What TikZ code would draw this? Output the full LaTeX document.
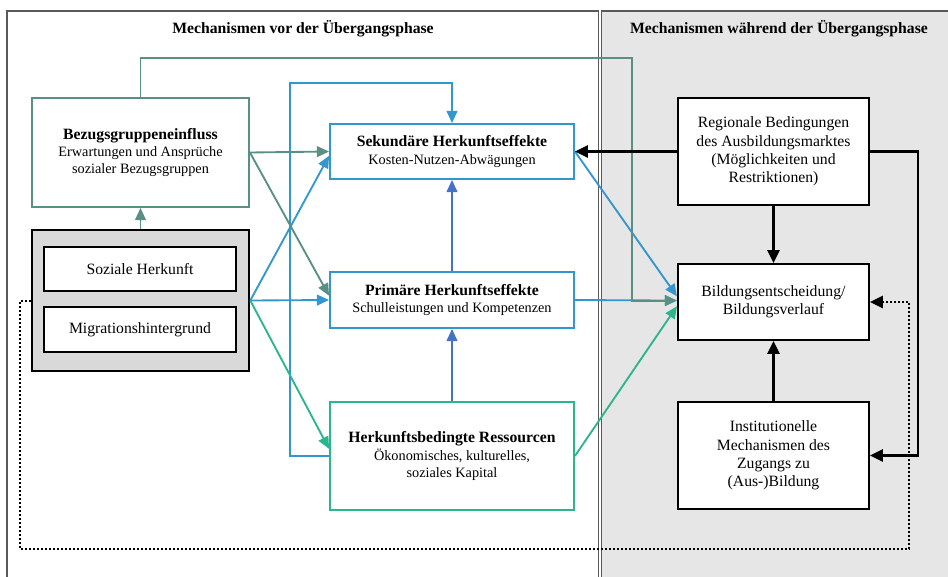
\documentclass[tikz,border=0pt]{standalone}
\usepackage{fontspec}
\setmainfont{Liberation Serif}
\usetikzlibrary{arrows.meta}

\definecolor{gruppe}{HTML}{5A8F86}
\definecolor{effekt}{HTML}{3396CF}
\definecolor{effektb}{HTML}{4472C4}
\definecolor{ressource}{HTML}{2BB58E}
\definecolor{phase}{HTML}{E6E6E6}
\definecolor{herkunft}{HTML}{D9D9D9}

\newcommand\kopf[1]{{\fontsize{11}{12}\selectfont\bfseries #1}}

\tikzset{
    kasten/.style={draw,fill=white,line width=1.3pt,align=center,inner sep=2pt,font=\fontsize{10}{12}\selectfont},
    rkasten/.style={kasten,line width=1.5pt,font=\fontsize{11}{12.8}\selectfont},
    pfeil/.style={line width=1.3pt,-{Triangle[length=8.5pt,width=7.5pt]}},
    spfeil/.style={line width=1.5pt,-{Triangle[length=9pt,width=8.5pt]}},
}

\begin{document}
\begin{tikzpicture}[x=0.7pt,y=-0.7pt]
    % Rahmen
    \clip (0,0) rectangle (948,577);
    \fill[phase] (601,11) rectangle (960,600);
    \draw[gray!70!black,line width=1.1pt] (7,600) -- (7,11) -- (598.5,11) -- (598.5,600);
    \draw[gray!70!black,line width=0.9pt] (601.5,600) -- (601.5,11) -- (960,11);

    % Titel
    \node[font=\fontsize{11}{12}\selectfont\bfseries] (titelvor) at (303,29) {Mechanismen vor der Übergangsphase};
    \node[font=\fontsize{11}{12}\selectfont\bfseries] (titelwaehrend) at (779,29) {Mechanismen während der Übergangsphase};

    % Kaesten links
    \node[kasten,draw=gruppe,minimum width=217*0.7pt,minimum height=109*0.7pt] (bezug) at (140.5,152.5)
        {\kopf{Bezugsgruppeneinfluss}\\Erwartungen und Ansprüche\\sozialer Bezugsgruppen};
    \node[draw,fill=herkunft,line width=1.8pt,minimum width=217*0.7pt,minimum height=141*0.7pt] (herk) at (140.5,300.5) {};
    \node[rkasten,minimum width=192*0.7pt,minimum height=44*0.7pt] (sozial) at (140,269) {Soziale Herkunft};
    \node[rkasten,minimum width=192*0.7pt,minimum height=45*0.7pt] (migration) at (140,329.5) {Migrationshintergrund};

    % Kaesten Mitte
    \node[kasten,draw=effekt,minimum width=244*0.7pt,minimum height=55*0.7pt] (sek) at (452,151.5)
        {\kopf{Sekundäre Herkunftseffekte}\\Kosten-Nutzen-Abwägungen};
    \node[kasten,draw=effekt,minimum width=244*0.7pt,minimum height=56*0.7pt] (prim) at (452,300)
        {\kopf{Primäre Herkunftseffekte}\\Schulleistungen und Kompetenzen};
    \node[kasten,draw=ressource,minimum width=244*0.7pt,minimum height=108*0.7pt] (ress) at (452,456)
        {\kopf{Herkunftsbedingte Ressourcen}\\Ökonomisches, kulturelles,\\soziales Kapital};

    % Kaesten rechts
    \node[rkasten,minimum width=191*0.7pt,minimum height=107*0.7pt] (region) at (773.5,151.5)
        {Regionale Bedingungen\\des Ausbildungsmarktes\\(Möglichkeiten und\\Restriktionen)};
    \node[rkasten,minimum width=191*0.7pt,minimum height=76*0.7pt] (bildung) at (773.5,302)
        {Bildungsentscheidung/\\Bildungsverlauf};
    \node[rkasten,minimum width=191*0.7pt,minimum height=107*0.7pt] (inst) at (773.5,455.5)
        {Institutionelle\\Mechanismen des\\Zugangs zu\\(Aus-)Bildung};

    % Pfeile blau
    \draw[pfeil,effekt] (ress.west) -| (290,83) -| (sek.north);
    \draw[pfeil,effekt] (herk.east) -- ([yshift=-3pt]sek.west);
    \draw[pfeil,effekt] (herk.east) -- (prim.west);
    \draw[pfeil,effektb] (prim.north) -- (sek.south);
    \draw[pfeil,effektb] (ress.north) -- (prim.south);
    \draw[pfeil,effekt] (sek.east) -- ([yshift=4pt]bildung.west);
    \draw[pfeil,effekt] (prim.east) -- ([yshift=1pt]bildung.west);

    % Pfeile gruen
    \draw[pfeil,ressource] (herk.east) -- ([yshift=5pt]ress.west);
    \draw[pfeil,ressource] (ress.east) -- ([yshift=-3pt]bildung.west);

    % Pfeile Bezugsgruppe
    \draw[pfeil,gruppe] (herk.north) -- (bezug.south);
    \draw[pfeil,gruppe] (bezug.east) -- (sek.west);
    \draw[pfeil,gruppe] (bezug.east) -- ([yshift=3pt]prim.west);
    \draw[pfeil,gruppe] (bezug.north) |- (632,58) |- ([yshift=1pt]bildung.west);

    % Pfeile schwarz
    \draw[spfeil] (region.west) -- (sek.east);
    \draw[spfeil] (region.south) -- (bildung.north);
    \draw[spfeil] (inst.north) -- (bildung.south);
    \draw[spfeil] (region.east) -| (918,455.5) -- (inst.east);

    % gepunktet
    \draw[spfeil,line width=1.4pt,dash pattern=on 1.4pt off 1.4pt] (herk.west) -| (20,549) -| (909,302) -- (bildung.east);
\end{tikzpicture}
\end{document}
